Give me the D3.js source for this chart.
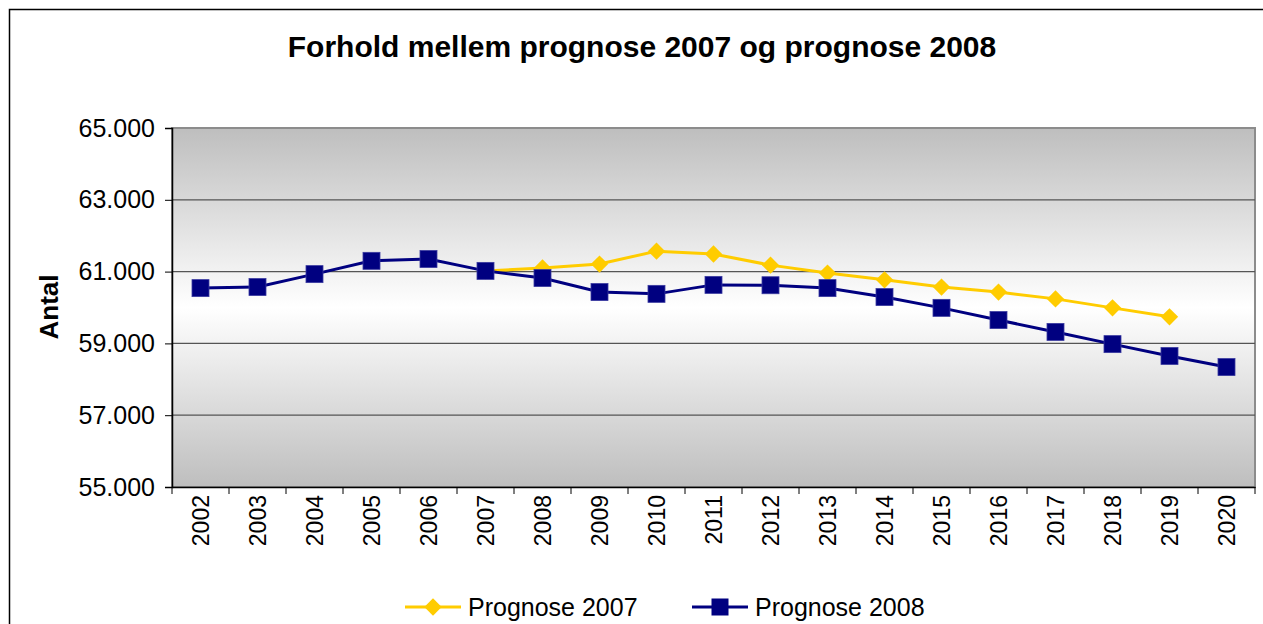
<!DOCTYPE html>
<html>
<head>
<meta charset="utf-8">
<script src="https://cdn.jsdelivr.net/npm/d3@7"></script>
<style>
  body { margin: 0; background: #fff; overflow: hidden; }
  text { font-family: "Liberation Sans", Arial, sans-serif; }
</style>
</head>
<body>
<div id="chart"></div>
<script>
// chart data
const years = ['2002','2003','2004','2005','2006','2007','2008','2009','2010','2011',
               '2012','2013','2014','2015','2016','2017','2018','2019','2020'];
const prognose2007 = [null, null, null, null, null, 61020, 61100, 61210, 61570, 61490,
                      61180, 60960, 60770, 60570, 60430, 60240, 59990, 59740, null];
const prognose2008 = [60540, 60570, 60930, 61300, 61350, 61020, 60820, 60430, 60380, 60630,
                      60620, 60540, 60290, 59990, 59650, 59320, 58980, 58650, 58340];
const yTicks = [55000, 57000, 59000, 61000, 63000, 65000];

const width = 1263, height = 624;
const margin = {top: 128, right: 8, bottom: 137, left: 172};
const innerWidth = width - margin.left - margin.right;
const innerHeight = height - margin.top - margin.bottom;

const svg = d3.select('#chart').append('svg')
    .attr('width', width)
    .attr('height', height)
    .style('display', 'block');

// outer chart border (only top and left edges are inside the picture)
svg.append('path')
    .attr('d', `M9.5,${height}V9.5H${width}`)
    .attr('fill', 'none').attr('stroke', '#000').attr('stroke-width', 1.5);

const defs = svg.append('defs');
const grad = defs.append('linearGradient')
    .attr('id', 'bg').attr('x1', 0).attr('y1', 0).attr('x2', 0).attr('y2', 1);
grad.append('stop').attr('offset', '0%').attr('stop-color', '#bebebe');
grad.append('stop').attr('offset', '50%').attr('stop-color', '#ffffff');
grad.append('stop').attr('offset', '100%').attr('stop-color', '#bebebe');

svg.append('text')
    .attr('x', 642).attr('y', 57)
    .attr('text-anchor', 'middle')
    .attr('font-size', 30).attr('font-weight', 'bold')
    .text('Forhold mellem prognose 2007 og prognose 2008');

const g = svg.append('g').attr('transform', `translate(${margin.left},${margin.top})`);

const x = d3.scaleBand().domain(years).range([0, innerWidth]);
const y = d3.scaleLinear().domain([55000, 65000]).range([innerHeight, 0]);

g.append('rect')
    .attr('width', innerWidth).attr('height', innerHeight)
    .attr('fill', 'url(#bg)')
    .attr('stroke', '#8c8c8c').attr('stroke-width', 2);

// gridlines
g.selectAll('.grid').data(yTicks.slice(1, -1)).join('line')
    .attr('x1', 0).attr('x2', innerWidth)
    .attr('y1', d => y(d)).attr('y2', d => y(d))
    .attr('stroke', '#555').attr('stroke-width', 1.2);

// y axis
const fmt = d => d3.format(',')(d).replace(',', '.');
const yAxis = g.append('g')
    .call(d3.axisLeft(y).tickValues(yTicks).tickFormat(fmt).tickSize(7).tickPadding(10));
yAxis.select('.domain').attr('stroke', '#000').attr('stroke-width', 1.5);
yAxis.selectAll('.tick line').attr('stroke', '#000');
yAxis.selectAll('text').attr('font-size', 25).attr('fill', '#000')
    .attr('font-family', '"Liberation Sans", Arial, sans-serif');

// x axis
const xAxis = g.append('g')
    .attr('transform', `translate(0,${innerHeight})`)
    .call(d3.axisBottom(x).tickSize(0).tickPadding(0));
xAxis.select('.domain').attr('stroke', '#000').attr('stroke-width', 1.5);
xAxis.selectAll('.tick text')
    .attr('font-size', 23).attr('fill', '#000')
    .attr('font-family', '"Liberation Sans", Arial, sans-serif')
    .attr('text-anchor', 'end')
    .attr('transform', 'translate(0,8) rotate(-90)')
    .attr('dx', 0).attr('dy', '0.35em')
    .attr('y', 0).attr('x', 0);
// category boundary ticks
g.selectAll('.xtick').data(years.concat(['end'])).join('line')
    .attr('x1', (d, i) => i * x.step()).attr('x2', (d, i) => i * x.step())
    .attr('y1', innerHeight).attr('y2', innerHeight + 7)
    .attr('stroke', '#000').attr('stroke-width', 1);

svg.append('text')
    .attr('transform', 'translate(58,307) rotate(-90)')
    .attr('text-anchor', 'middle')
    .attr('font-size', 26).attr('font-weight', 'bold')
    .text('Antal');

const cx = i => x(years[i]) + x.bandwidth() / 2;
const line = d3.line()
    .defined(d => d != null)
    .x((d, i) => cx(i))
    .y(d => y(d));

const yellow = '#ffcc00', navy = '#000080';

g.append('path').datum(prognose2007)
    .attr('d', line).attr('fill', 'none')
    .attr('stroke', yellow).attr('stroke-width', 3);

g.append('path').datum(prognose2008)
    .attr('d', line).attr('fill', 'none')
    .attr('stroke', navy).attr('stroke-width', 3);

const diamond = d3.symbol().type(d3.symbolSquare).size(150);
g.selectAll('.p7').data(prognose2007.map((v, i) => ({v, i})).filter(d => d.v != null))
    .join('path')
    .attr('d', diamond)
    .attr('transform', d => `translate(${cx(d.i)},${y(d.v)}) rotate(45)`)
    .attr('fill', yellow);

g.selectAll('.p8').data(prognose2008.map((v, i) => ({v, i})))
    .join('rect')
    .attr('x', d => cx(d.i) - 8.5).attr('y', d => y(d.v) - 8.5)
    .attr('width', 17).attr('height', 17)
    .attr('fill', navy).attr('stroke', '#3a3aa0').attr('stroke-width', 0.8);

// legend
const legend = svg.append('g').attr('transform', 'translate(0,607)');
const items = [
  {name: 'Prognose 2007', color: yellow, x: 405, kind: 'diamond'},
  {name: 'Prognose 2008', color: navy, x: 692, kind: 'square'}
];
items.forEach(it => {
  const lg = legend.append('g').attr('transform', `translate(${it.x},0)`);
  lg.append('line').attr('x1', 0).attr('x2', 56).attr('y1', 0).attr('y2', 0)
      .attr('stroke', it.color).attr('stroke-width', 3);
  if (it.kind === 'diamond') {
    lg.append('path').attr('d', diamond)
        .attr('transform', 'translate(28,0) rotate(45)').attr('fill', it.color);
  } else {
    lg.append('rect').attr('x', 19.5).attr('y', -8.5).attr('width', 17).attr('height', 17)
        .attr('fill', it.color);
  }
  lg.append('text').attr('x', 63).attr('y', 0).attr('dy', '0.35em')
      .attr('font-size', 25).text(it.name);
});
</script>
</body>
</html>
